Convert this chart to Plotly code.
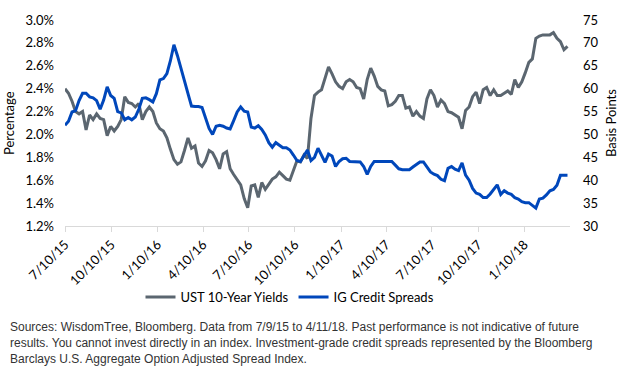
import pandas as pd
import plotly.graph_objects as go

# Weekly observations starting 7/10/15
start_date = "2015-07-10"
n_weeks = 144

ust_10y = [
    2.40, 2.36, 2.29, 2.20, 2.18, 2.20, 2.04, 2.17, 2.13, 2.18,
    2.14, 2.13, 1.99, 2.07, 2.03, 2.07, 2.13, 2.33, 2.28, 2.27,
    2.24, 2.27, 2.13, 2.20, 2.24, 2.20, 2.10, 2.05, 2.03, 1.97,
    1.87, 1.78, 1.74, 1.76, 1.86, 1.97, 1.88, 1.90, 1.75, 1.72,
    1.77, 1.86, 1.84, 1.78, 1.70, 1.83, 1.85, 1.70, 1.65, 1.61,
    1.56, 1.44, 1.36, 1.55, 1.56, 1.45, 1.58, 1.52, 1.57, 1.61,
    1.63, 1.67, 1.64, 1.61, 1.60, 1.69, 1.77, 1.76, 1.82, 1.79,
    2.14, 2.34, 2.37, 2.39, 2.49, 2.59, 2.53, 2.46, 2.42, 2.40,
    2.46, 2.48, 2.46, 2.41, 2.40, 2.31, 2.48, 2.58, 2.51, 2.42,
    2.39, 2.38, 2.25, 2.26, 2.29, 2.34, 2.34, 2.23, 2.24, 2.16,
    2.20, 2.16, 2.14, 2.31, 2.39, 2.34, 2.24, 2.30, 2.27, 2.20,
    2.19, 2.17, 2.15, 2.05, 2.21, 2.24, 2.33, 2.37, 2.27, 2.39,
    2.41, 2.34, 2.39, 2.34, 2.34, 2.36, 2.38, 2.35, 2.48, 2.41,
    2.46, 2.54, 2.63, 2.66, 2.84, 2.86, 2.87, 2.87, 2.87, 2.89,
    2.84, 2.81, 2.74, 2.77,
]

ig_spreads = [
    52.0, 52.9, 54.9, 55.2, 57.4, 59.0, 59.0, 58.2, 58.0, 57.4,
    55.5, 57.5, 60.4, 58.5, 57.9, 55.0, 54.7, 53.2, 53.7, 53.2,
    53.8, 55.5, 57.9, 58.0, 57.6, 57.1, 58.9, 61.9, 62.2, 63.3,
    66.1, 69.6, 67.2, 64.2, 61.7, 58.9, 56.2, 56.1, 56.1, 55.9,
    53.6, 51.3, 50.0, 51.8, 52.0, 51.8, 51.4, 51.2, 53.0, 54.9,
    56.0, 55.1, 54.9, 51.6, 51.4, 51.9, 51.1, 49.9, 48.2, 47.2,
    48.2, 47.6, 47.1, 47.1, 46.6, 45.5, 44.3, 44.1, 45.4, 46.6,
    44.3, 45.0, 47.0, 45.6, 43.9, 45.7, 45.3, 43.0, 44.1, 44.7,
    44.8, 44.1, 44.1, 44.1, 44.0, 43.0, 41.3, 43.0, 44.1, 44.1,
    44.1, 44.1, 44.1, 44.1, 43.3, 42.5, 42.3, 42.3, 42.3, 42.9,
    43.4, 44.0, 44.0, 42.9, 41.8, 41.3, 41.0, 40.2, 39.9, 42.6,
    43.0, 42.4, 42.1, 43.8, 41.1, 40.0, 38.2, 37.2, 36.9, 36.2,
    36.2, 37.0, 38.1, 39.0, 36.9, 37.7, 37.2, 36.9, 36.2, 35.9,
    35.3, 35.1, 35.1, 34.4, 33.9, 35.9, 36.1, 36.8, 37.7, 38.0,
    38.9, 41.1, 41.1, 41.1,
]

tick_dates = ["2015-07-10", "2015-10-10", "2016-01-10", "2016-04-10",
              "2016-07-10", "2016-10-10", "2017-01-10", "2017-04-10",
              "2017-07-10", "2017-10-10", "2018-01-10"]
tick_labels = ["7/10/15", "10/10/15", "1/10/16", "4/10/16", "7/10/16",
               "10/10/16", "1/10/17", "4/10/17", "7/10/17", "10/10/17",
               "1/10/18"]

dates = pd.date_range(start_date, periods=n_weeks, freq="7D")

GRAY = "#5b6670"
BLUE = "#0047bb"
FONT = "Lato, Open Sans, sans-serif"
SRC_FONT = "Liberation Sans, Arial, sans-serif"

W, H = 619, 368
L, R, T, B = 65, 49, 17, 142
pw, ph = W - L - R, H - T - B


def px_x(x):
    return (x - L) / pw


def px_y(y):
    return (H - B - y) / ph


fig = go.Figure()
fig.add_trace(go.Scatter(x=dates, y=ust_10y, mode="lines", name="UST 10-Year Yields",
                         line=dict(color=GRAY, width=3), yaxis="y"))
fig.add_trace(go.Scatter(x=dates, y=ig_spreads, mode="lines", name="IG Credit Spreads",
                         line=dict(color=BLUE, width=3), yaxis="y2"))

fig.update_layout(
    width=W, height=H,
    margin=dict(l=L, r=R, t=T, b=B, pad=0),
    paper_bgcolor="white", plot_bgcolor="white",
    font=dict(family=FONT, size=13, color="#000000"),
    xaxis=dict(
        type="date", range=["2015-07-10", "2018-04-11"],
        tickvals=tick_dates, ticktext=tick_labels, tickangle=-45,
        showgrid=False, zeroline=False,
        showline=True, linecolor="#d9d9d9", linewidth=1,
        ticks="outside", ticklen=5, tickcolor="#d9d9d9",
        tickfont=dict(family=FONT, size=13, color="#000000"),
    ),
    yaxis=dict(
        range=[1.2, 3.0], dtick=0.2, tick0=1.2, tickformat=".1f", ticksuffix="%",
        showgrid=False, zeroline=False, showline=False, ticks="",
        ticklabelstandoff=10,
        tickfont=dict(family=FONT, size=13, color="#000000"),
    ),
    yaxis2=dict(
        range=[30, 75], dtick=5, tick0=30, overlaying="y", side="right",
        showgrid=False, zeroline=False, showline=False, ticks="",
        ticklabelstandoff=12,
        tickfont=dict(family=FONT, size=13, color="#000000"),
    ),
    showlegend=True,
    legend=dict(
        orientation="h", x=px_x(290), xanchor="center", y=px_y(298), yanchor="middle",
        font=dict(family=FONT, size=13, color="#000000"), itemwidth=30,
        bgcolor="rgba(0,0,0,0)",
    ),
)

annotations = [
    dict(text="Percentage", x=px_x(9), y=px_y(121.5), xref="paper", yref="paper",
         showarrow=False, textangle=-90, xanchor="center", yanchor="middle",
         font=dict(family=FONT, size=13, color="#000000")),
    dict(text="Basis Points", x=px_x(611), y=px_y(121.5), xref="paper", yref="paper",
         showarrow=False, textangle=-90, xanchor="center", yanchor="middle",
         font=dict(family=FONT, size=13, color="#000000")),
]
source_lines = [
    "Sources: WisdomTree, Bloomberg. Data from 7/9/15 to 4/11/18. Past performance is not indicative of future",
    "results. You cannot invest directly in an index. Investment-grade credit spreads represented by the Bloomberg",
    "Barclays U.S. Aggregate Option Adjusted Spread Index.",
]
for line, yc in zip(source_lines, [328, 345, 361]):
    annotations.append(dict(
        text=line, x=px_x(8), y=px_y(yc), xref="paper", yref="paper",
        showarrow=False, xanchor="left", yanchor="middle", align="left",
        font=dict(family=SRC_FONT, size=12, color="#333333")))
fig.update_layout(annotations=annotations)

fig.write_html("out.html")
